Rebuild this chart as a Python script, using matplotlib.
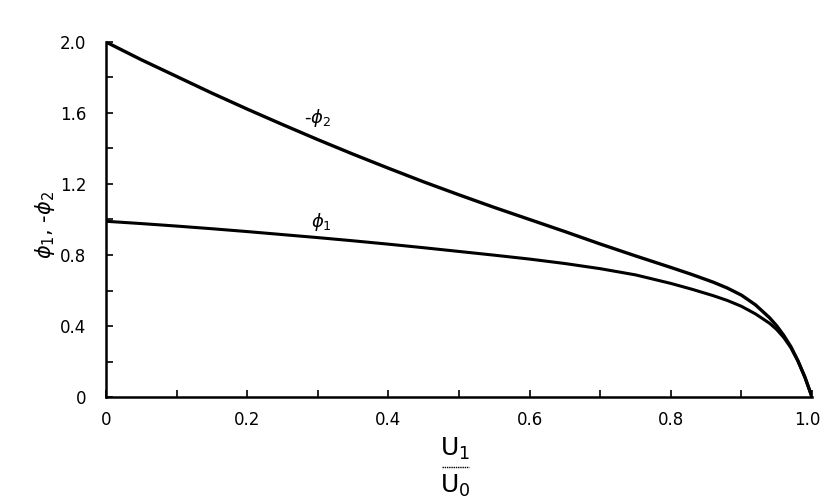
import matplotlib
matplotlib.use("Agg")
import matplotlib.pyplot as plt
import matplotlib.transforms as mtransforms
from matplotlib.lines import Line2D

# Data
u_ratio = [0.0, 0.05, 0.1, 0.15, 0.2, 0.25, 0.3, 0.35, 0.4, 0.45, 0.5, 0.55, 0.6, 0.65,
           0.7, 0.75, 0.8, 0.83, 0.86, 0.88, 0.9, 0.92, 0.94, 0.95, 0.96, 0.97, 0.98, 0.99, 1.0]
neg_phi2 = [2.0, 1.90, 1.806, 1.712, 1.622, 1.535, 1.450, 1.368, 1.289, 1.212, 1.139, 1.068, 1.000, 0.932,
            0.862, 0.795, 0.730, 0.690, 0.647, 0.614, 0.574, 0.519, 0.446, 0.401, 0.347, 0.284, 0.205, 0.112, 0.0]
phi1 = [0.99, 0.977, 0.963, 0.948, 0.932, 0.915, 0.898, 0.880, 0.861, 0.841, 0.820, 0.799, 0.777, 0.752,
        0.723, 0.688, 0.640, 0.607, 0.571, 0.544, 0.511, 0.468, 0.415, 0.380, 0.335, 0.278, 0.203, 0.110, 0.0]

x_ticks = [0.0, 0.2, 0.4, 0.6, 0.8, 1.0]
x_tick_labels = ["0", "0.2", "0.4", "0.6", "0.8", "1.0"]
y_ticks = [0.0, 0.4, 0.8, 1.2, 1.6, 2.0]
y_tick_labels = ["0", "0.4", "0.8", "1.2", "1.6", "2.0"]

fig = plt.figure(figsize=(8.23, 5.04), dpi=100)
fig.patch.set_facecolor("white")
ax = fig.add_axes([106 / 823, 1 - 397 / 504, (812 - 106) / 823, (397 - 42) / 504])
ax.set_facecolor("none")

ax.plot(u_ratio, neg_phi2, color="black", lw=2.4, solid_capstyle="round", solid_joinstyle="round")
ax.plot(u_ratio, phi1, color="black", lw=2.2, solid_capstyle="round", solid_joinstyle="round")

ax.set_xlim(0, 1.0)
ax.set_ylim(0, 2.0)
for s in ["top", "right"]:
    ax.spines[s].set_visible(False)
for s in ["left", "bottom"]:
    ax.spines[s].set_linewidth(1.8)
    ax.spines[s].set_color("black")

ax.set_xticks(x_ticks)
ax.set_xticklabels(x_tick_labels)
ax.set_yticks(y_ticks)
ax.set_yticklabels(y_tick_labels)
ax.set_xticks([0.1, 0.3, 0.5, 0.7, 0.9], minor=True)
ax.set_yticks([0.2, 0.6, 1.0, 1.4, 1.8], minor=True)
ax.tick_params(axis="both", which="both", direction="in", length=5, width=1.2,
               color="black", labelsize=12, pad=14)
ax.tick_params(axis="x", which="major", pad=10)

# keep the last x tick label inside the figure
last = ax.get_xticklabels()[-1]
last.set_transform(last.get_transform() +
                   mtransforms.ScaledTranslation(-5 / 100, 0, fig.dpi_scale_trans))

ax.text(0.30, 1.57, r"-$\phi_2$", fontsize=13, ha="center", va="center")
ax.text(0.305, 0.985, r"$\phi_1$", fontsize=13, ha="center", va="center")

fig.text(45 / 823, 1 - 225 / 504, r"$\phi_1$, -$\phi_2$", rotation=90, fontsize=15,
         ha="center", va="center")

# x label as a stacked fraction
fig.text(455 / 823, 1 - 449 / 504, r"U$_1$", fontsize=18, ha="center", va="center")
fig.text(455 / 823, 1 - 486 / 504, r"U$_0$", fontsize=18, ha="center", va="center")
fig.add_artist(Line2D([442 / 823, 469 / 823], [1 - 467 / 504, 1 - 467 / 504],
                      color="black", lw=1.0, linestyle=(0, (1, 0.6)),
                      transform=fig.transFigure))

fig.savefig("out.png", dpi=100, facecolor="white")
